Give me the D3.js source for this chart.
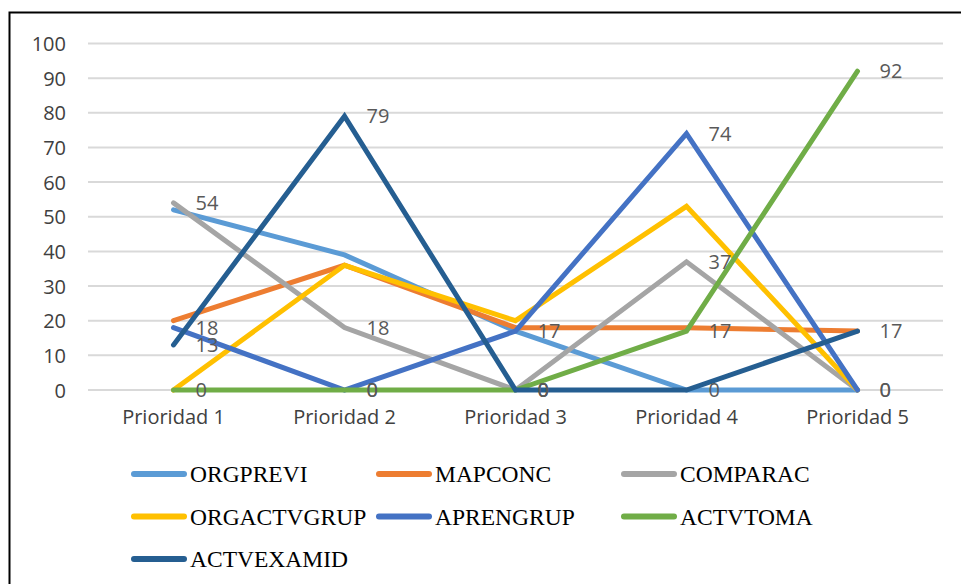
<!DOCTYPE html>
<html>
<head lang="es">
    <meta charset="UTF-8">
    <title>Prioridades</title>
    <script src="https://d3js.org/d3.v7.min.js"></script>
    <style>
        body { margin: 0; background: #fff; }
    </style>
</head>
<body>
<div id="chartContainer"></div>
<script type="text/javascript">
    var categories = ["Prioridad 1", "Prioridad 2", "Prioridad 3", "Prioridad 4", "Prioridad 5"];
    var yTicks = [0, 10, 20, 30, 40, 50, 60, 70, 80, 90, 100];

    var orgprevi    = [52, 39, 17, 0, 0];
    var mapconc     = [20, 36, 18, 18, 17];
    var comparac    = [54, 18, 0, 37, 0];
    var orgactvgrup = [0, 36, 20, 53, 0];
    var aprengrup   = [18, 0, 17, 74, 0];
    var actvtoma    = [0, 0, 0, 17, 92];
    var actvexamid  = [13, 79, 0, 0, 17];

    var seriesNames = ["ORGPREVI", "MAPCONC", "COMPARAC", "ORGACTVGRUP", "APRENGRUP", "ACTVTOMA", "ACTVEXAMID"];
    var seriesValues = [orgprevi, mapconc, comparac, orgactvgrup, aprengrup, actvtoma, actvexamid];
    var seriesColors = ["#5B9BD5", "#ED7D31", "#A5A5A5", "#FFC000", "#4472C4", "#70AD47", "#255E91"];
    // only these series carry data labels
    var labelled = ["COMPARAC", "APRENGRUP", "ACTVTOMA", "ACTVEXAMID"];

    var W = 961, H = 584;
    var svg = d3.select("#chartContainer").append("svg")
        .attr("width", W).attr("height", H);

    // outer frame, cut off at the right and bottom
    svg.append("rect")
        .attr("x", 9.5).attr("y", 12.5)
        .attr("width", 980).attr("height", 600)
        .attr("fill", "#fff").attr("stroke", "#000").attr("stroke-width", 2);

    var x = d3.scaleBand().domain(categories).range([88, 943]);
    var y = d3.scaleLinear().domain([0, 100]).range([390, 43.5]);

    // gridlines
    svg.append("g").selectAll("line")
        .data(yTicks)
        .enter().append("line")
        .attr("x1", 88).attr("x2", 943)
        .attr("y1", function (d) { return y(d); })
        .attr("y2", function (d) { return y(d); })
        .attr("stroke", "#D9D9D9").attr("stroke-width", 2);

    // y axis labels
    var yAxis = d3.axisLeft(y).tickValues(yTicks).tickSize(0).tickPadding(0);
    var gy = svg.append("g").attr("transform", "translate(66,0)").call(yAxis);
    gy.select(".domain").remove();
    gy.selectAll("text")
        .style("font-family", "'Open Sans', sans-serif")
        .style("font-size", "20px")
        .attr("fill", "#404040")
        .attr("dy", "0.35em");

    // x axis labels
    var xAxis = d3.axisBottom(x).tickSize(0).tickPadding(0);
    var gx = svg.append("g").attr("transform", "translate(0,407)").call(xAxis);
    gx.select(".domain").remove();
    gx.selectAll("text")
        .style("font-family", "'Open Sans', sans-serif")
        .style("font-size", "20px")
        .attr("fill", "#404040")
        .attr("dy", "0.85em");

    var line = d3.line()
        .x(function (d, i) { return x(categories[i]) + x.bandwidth() / 2; })
        .y(function (d) { return y(d); });

    svg.append("g").selectAll("path")
        .data(seriesValues)
        .enter().append("path")
        .attr("d", function (d) { return line(d); })
        .attr("fill", "none")
        .attr("stroke", function (d, i) { return seriesColors[i]; })
        .attr("stroke-width", 5)
        .attr("stroke-linecap", "round")
        .attr("stroke-linejoin", "miter");

    // data labels
    var labels = [];
    seriesNames.forEach(function (name, si) {
        if (labelled.indexOf(name) < 0) return;
        seriesValues[si].forEach(function (v, ci) {
            labels.push({ cat: categories[ci], value: v });
        });
    });
    svg.append("g").selectAll("text")
        .data(labels)
        .enter().append("text")
        .attr("x", function (d) { return x(d.cat) + x.bandwidth() / 2 + 22; })
        .attr("y", function (d) { return y(d.value); })
        .attr("dy", "0.35em")
        .style("font-family", "'Open Sans', sans-serif")
        .style("font-size", "20px")
        .attr("fill", "#595959")
        .text(function (d) { return d.value; });

    // legend, three columns
    var legend = svg.append("g").selectAll("g")
        .data(seriesNames)
        .enter().append("g")
        .attr("transform", function (d, i) {
            return "translate(" + (131 + (i % 3) * 245) + "," + (474 + Math.floor(i / 3) * 42.5) + ")";
        });
    legend.append("line")
        .attr("x1", 3).attr("x2", 53)
        .attr("stroke", function (d, i) { return seriesColors[i]; })
        .attr("stroke-width", 6)
        .attr("stroke-linecap", "round");
    legend.append("text")
        .attr("x", 59).attr("y", 8)
        .style("font-family", "'Liberation Serif', 'Times New Roman', serif")
        .style("font-size", "23.5px")
        .attr("fill", "#000")
        .text(function (d) { return d; });
</script>
</body>
</html>
